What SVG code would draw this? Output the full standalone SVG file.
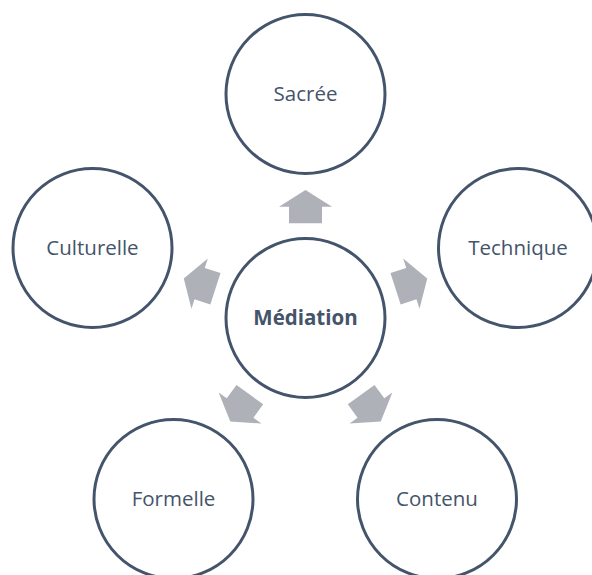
<svg xmlns="http://www.w3.org/2000/svg" width="592" height="575" viewBox="0 0 592 575">
  <style>
    .node circle { fill: #ffffff; stroke: #44546a; stroke-width: 3; }
    .node text { font-family: "Open Sans", "Noto Sans", "Liberation Sans", sans-serif; font-size: 20.5px; fill: #44546a; text-anchor: middle; }
    .hub text { font-weight: bold; }
    .arrow { fill: #aeb1b8; }
  </style>
  <defs>
    <!-- block arrow pointing up, positioned relative to the hub centre -->
    <polygon id="blockArrow" points="0,-128 26.5,-111.3 16.5,-111.3 16.5,-94.7 -16.5,-94.7 -16.5,-111.3 -26.5,-111.3"/>
  </defs>

  <g id="connectors">
    <use href="#blockArrow" class="arrow" transform="translate(305.5 318) rotate(0)"/>
    <use href="#blockArrow" class="arrow" transform="translate(305.5 318) rotate(72)"/>
    <use href="#blockArrow" class="arrow" transform="translate(305.5 318) rotate(144)"/>
    <use href="#blockArrow" class="arrow" transform="translate(305.5 318) rotate(216)"/>
    <use href="#blockArrow" class="arrow" transform="translate(305.5 318) rotate(288)"/>
  </g>

  <g id="mediation" class="node hub">
    <circle cx="305.5" cy="318" r="79.5"/>
    <text x="305.5" y="325">Médiation</text>
  </g>
  <g id="sacree" class="node">
    <circle cx="305.5" cy="94" r="79.5"/>
    <text x="305.5" y="101">Sacrée</text>
  </g>
  <g id="technique" class="node">
    <circle cx="518" cy="248" r="79.5"/>
    <text x="518" y="255">Technique</text>
  </g>
  <g id="contenu" class="node">
    <circle cx="437" cy="499" r="79.5"/>
    <text x="437" y="506">Contenu</text>
  </g>
  <g id="formelle" class="node">
    <circle cx="173.5" cy="499" r="79.5"/>
    <text x="173.5" y="506">Formelle</text>
  </g>
  <g id="culturelle" class="node">
    <circle cx="92.5" cy="248" r="79.5"/>
    <text x="92.5" y="255">Culturelle</text>
  </g>
</svg>
